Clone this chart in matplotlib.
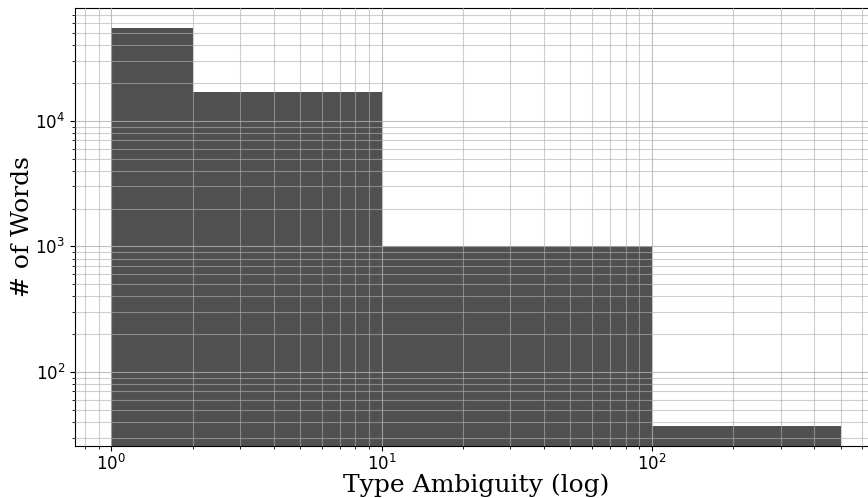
import numpy as np
import matplotlib
matplotlib.use('Agg')
import matplotlib.pyplot as plt

# Bordes de los bins y conteos
bin_edges = [1, 2, 10, 100, 500]
word_counts = [55000, 17000, 1010, 37]

fig = plt.figure(figsize=(8.68, 4.98), dpi=100)
ax = fig.add_axes([75 / 868, 52 / 498, (877 - 75) / 868, (490 - 52) / 498])

ax.bar(bin_edges[:-1], word_counts, width=np.diff(bin_edges), align='edge',
       color='#505050', zorder=1)
ax.set_xscale('log')
ax.set_yscale('log')

ax.grid(True, which='major', color='#b0b0b0', linewidth=0.8, alpha=0.8, zorder=3)
ax.grid(True, which='minor', color='#b0b0b0', linewidth=0.8, alpha=0.6, zorder=3)
ax.set_axisbelow(False)

ax.set_xlabel('Type Ambiguity (log)', family='DejaVu Serif', fontsize=18, labelpad=-0.5)
ax.set_ylabel('# of Words', family='DejaVu Serif', fontsize=18, labelpad=1)
ax.tick_params(axis='both', which='major', labelsize=12)
ax.tick_params(axis='x', which='major', pad=2.5)

fig.savefig('out.png', dpi=100)
